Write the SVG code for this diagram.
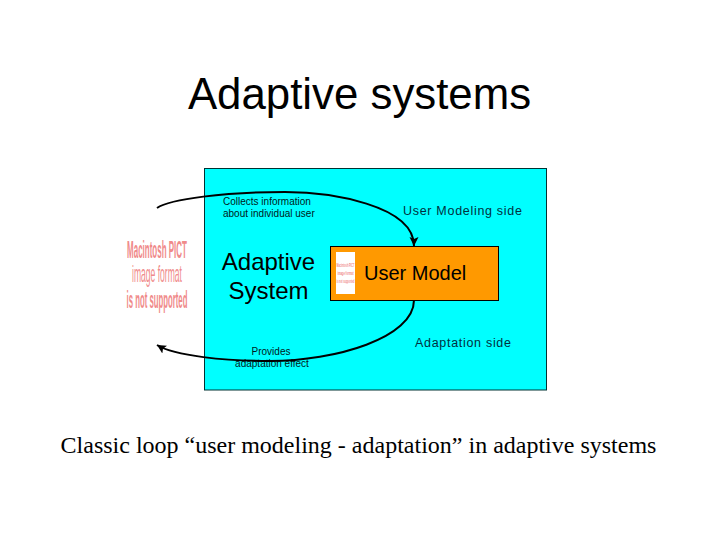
<svg xmlns="http://www.w3.org/2000/svg" width="720" height="540" viewBox="0 0 720 540">
<style>
text{font-family:"Liberation Sans",Arial,sans-serif;fill:#000}
.pict{fill:#f08a8a;font-weight:bold;text-anchor:middle}
.pict-r{fill:#f08a8a;text-anchor:middle}
.side{font-size:12.5px;letter-spacing:.7px;fill:#003040}
.small{font-size:10px;fill:#001a20}
.conn{fill:none;stroke:#000;stroke-width:2}
.serif{font-family:"Liberation Serif","Times New Roman",serif}
</style>
<defs>
<marker id="arrow" markerUnits="userSpaceOnUse" markerWidth="12" markerHeight="10" refX="9" refY="4.500" orient="auto"><path d="M0 0L9 4.500L0 9L2 4.500Z" fill="#000"/></marker>
</defs>
<rect width="720" height="540" fill="#fff"/>
<text x="359.500" y="109" font-size="43.800" text-anchor="middle">Adaptive systems</text>
<g id="panel"><rect x="204.500" y="168.500" width="342" height="221.500" fill="#00ffff" stroke="#003333" stroke-width="1"/></g>
<g id="pict-large" font-size="23">
<text class="pict" transform="translate(157 258) scale(.347 1)">Macintosh PICT</text>
<text class="pict-r" transform="translate(157 282) scale(.372 1)">image format</text>
<text class="pict" transform="translate(157 308) scale(.338 1)">is not supported</text>
</g>
<g id="user-model">
<rect x="330.500" y="246.500" width="168" height="54" fill="#ff9900" stroke="#000" stroke-width="1"/>
<rect x="336" y="252" width="19" height="42" fill="#fff"/>
<g font-size="5.500">
<text class="pict" transform="translate(345.500 267) scale(.436 1)">Macintosh PICT</text>
<text class="pict" transform="translate(345.500 275) scale(.47 1)">image format</text>
<text class="pict" transform="translate(345.500 283) scale(.417 1)">is not supported</text>
</g>
<text x="364" y="279.500" font-size="20">User Model</text>
</g>
<g id="adaptive-system">
<text x="268.500" y="270" font-size="24" text-anchor="middle">Adaptive</text>
<text x="268.500" y="299" font-size="24" text-anchor="middle">System</text>
</g>
<g id="labels">
<text class="small" x="223" y="205">Collects information</text>
<text class="small" x="223" y="217">about individual user</text>
<text class="small" x="271" y="355" text-anchor="middle">Provides</text>
<text class="small" x="272" y="367" text-anchor="middle">adaptation effect</text>
<text class="side" x="403" y="214.500">User Modeling side</text>
<text class="side" x="415" y="346.500">Adaptation side</text>
</g>
<g id="connectors">
<path class="conn" marker-end="url(#arrow)" d="M157 208C170 199 225 192 285 192C330 192 414 205 414 246"/>
<path class="conn" marker-end="url(#arrow)" d="M414 300C414 338 335 361 270 361C225 361 175 356 157 345"/>
</g>
<text class="serif" x="358.500" y="452.500" font-size="24" text-anchor="middle">Classic loop “user modeling - adaptation” in adaptive systems</text>
</svg>
